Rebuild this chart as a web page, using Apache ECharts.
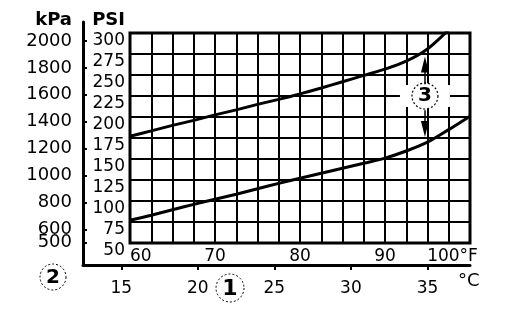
<!DOCTYPE html>
<html><head><meta charset="utf-8">
<script src="https://cdn.jsdelivr.net/npm/echarts@6/dist/echarts.min.js"></script>
<style>html,body{margin:0;padding:0;background:#fff}#c{width:512px;height:316px}</style>
</head><body><div id="c"></div>
<script>
// ---- data ----
const fahrenheit = [60, 62.5, 65, 67.5, 70, 72.5, 75, 77.5, 80, 82.5, 85, 87.5, 90, 92.5, 95, 97.5, 100];
const upperPSI = [177, 183.5, 190, 196, 202.5, 208.5, 215, 221, 227.5, 234.5, 242, 249.5, 257, 266.5, 281, 304];
const lowerPSI = [77, 83, 89.5, 96, 102, 108, 114.5, 121, 127, 133, 139, 145, 151, 159.5, 170, 185, 201];
const fahrenheitLabels = [60, 70, 80, 90, 100];
const celsiusLabels = [15, 20, 25, 30, 35];
const kpaLabels = [500, 600, 800, 1000, 1200, 1400, 1600, 1800, 2000];
const psiRange = [50, 300, 25];
const fRange = [60, 100, 2.5];
const kpaRange = [335, 2141];
const celsiusMin = 12.5;
// marker "3": range between curves (°F, PSI)
const rangeMarkF = 94.7;
const rangeMarkPSI = 225;
const upArrowPSI = [239, 262.6];
const downArrowPSI = [208, 185.7];

const FONT = 'DejaVu Sans';
const pair = arr => arr.map((v, i) => [fahrenheit[i], v]);

const chart = echarts.init(document.getElementById('c'), null, {renderer: 'canvas'});
chart.setOption({
  animation: false,
  backgroundColor: '#fff',
  textStyle: {fontFamily: FONT, color: '#000'},
  grid: [
    {left: 130, top: 33, width: 340, height: 210, show: true, borderColor: '#000', borderWidth: 3, backgroundColor: 'transparent'},
    {left: 83, top: 22, right: 42, bottom: 51, show: false}
  ],
  xAxis: [
    {
      gridIndex: 0, type: 'value', min: fRange[0], max: fRange[1], interval: fRange[2],
      axisLine: {show: false}, axisTick: {show: false},
      splitLine: {show: true, lineStyle: {color: '#000', width: 2}},
      axisLabel: {
        customValues: fahrenheitLabels, margin: 5, fontSize: 17, color: '#000', fontFamily: FONT,
        showMinLabel: true, showMaxLabel: true,
        alignMinLabel: 'left', alignMaxLabel: 'center',
        formatter: v => v === 100 ? '{last|100°F}' : String(v),
        rich: {last: {fontSize: 17, fontFamily: FONT, color: '#000', padding: [0, 35, 0, 0]}}
      }
    },
    {
      gridIndex: 1, type: 'value', min: celsiusMin, max: (100 - 32) / 1.8,
      axisLine: {show: true, lineStyle: {color: '#000', width: 3}},
      axisTick: {show: true, customValues: celsiusLabels, length: 5, lineStyle: {color: '#000', width: 2}},
      axisLabel: {customValues: celsiusLabels, margin: 15, fontSize: 17, color: '#000', fontFamily: FONT,
        showMinLabel: true, showMaxLabel: true, formatter: v => String(v)},
      splitLine: {show: false},
      name: '°C', nameLocation: 'end', nameGap: -12,
      nameTextStyle: {fontSize: 18, color: '#000', fontFamily: FONT, verticalAlign: 'top', padding: [7, 0, 0, 0]}
    }
  ],
  yAxis: [
    {
      gridIndex: 0, type: 'value', min: psiRange[0], max: psiRange[1], interval: psiRange[2],
      axisLine: {show: false}, axisTick: {show: false},
      splitLine: {show: true, lineStyle: {color: '#000', width: 2}},
      axisLabel: {margin: 5, color: '#000', fontFamily: FONT,
        showMinLabel: true, showMaxLabel: true,
        formatter: v => '{p|' + v + '}',
        rich: {p: {fontSize: 17, fontFamily: FONT, color: '#000', padding: [15, 0, 0, 0]}}},
      name: 'PSI', nameLocation: 'end', nameGap: 4,
      nameTextStyle: {fontSize: 18, fontWeight: 'bold', color: '#000', fontFamily: FONT, align: 'right', padding: [0, 5, 0, 0]}
    },
    {
      gridIndex: 1, type: 'value', min: kpaRange[0], max: kpaRange[1],
      axisLine: {show: true, lineStyle: {color: '#000', width: 3}},
      axisTick: {show: true, inside: true, length: 4, customValues: kpaLabels, lineStyle: {color: '#000', width: 2}},
      axisLabel: {customValues: [kpaRange[0]].concat(kpaLabels), margin: 11, fontSize: 18, lineHeight: 9, color: '#000', fontFamily: FONT,
        showMinLabel: true, showMaxLabel: true, hideOverlap: false,
        formatter: v => (kpaLabels.indexOf(v) >= 0 ? String(v) : '')},
      splitLine: {show: false},
      name: 'kPa', nameLocation: 'end', nameGap: -7,
      nameTextStyle: {fontSize: 18, fontWeight: 'bold', color: '#000', fontFamily: FONT, align: 'right', padding: [0, 11, 0, 0]}
    }
  ],
  series: [
    {
      name: 'upper', type: 'line', xAxisIndex: 0, yAxisIndex: 0, data: pair(upperPSI),
      smooth: 0.3, showSymbol: false, clip: true, lineStyle: {color: '#000', width: 3}, z: 3,
      markPoint: {
        z: 4, silent: true,
        data: [
          {coord: [rangeMarkF, rangeMarkPSI], symbol: 'rect', symbolSize: [50, 22], itemStyle: {color: '#fff'}, label: {show: false}},
          {coord: [rangeMarkF, rangeMarkPSI], symbol: 'circle', symbolSize: 26,
           itemStyle: {color: '#fff', borderColor: '#000', borderWidth: 1.2, borderType: [2, 2]},
           label: {show: true, position: 'inside', formatter: '3', fontSize: 20, fontWeight: 'bold', color: '#000', fontFamily: FONT}}
        ]
      },
      markLine: {
        z: 5, silent: true, symbol: ['none', 'triangle'], symbolSize: [8, 16],
        lineStyle: {color: '#000', width: 1.5, type: 'solid'}, label: {show: false},
        data: [
          [{coord: [rangeMarkF, upArrowPSI[0]]}, {coord: [rangeMarkF, upArrowPSI[1]]}],
          [{coord: [rangeMarkF, downArrowPSI[0]]}, {coord: [rangeMarkF, downArrowPSI[1]]}]
        ]
      }
    },
    {
      name: 'lower', type: 'line', xAxisIndex: 0, yAxisIndex: 0, data: pair(lowerPSI),
      smooth: 0.3, showSymbol: false, clip: true, lineStyle: {color: '#000', width: 3}, z: 3
    }
  ],
  graphic: [
    {type: 'circle', shape: {cx: 53, cy: 277, r: 13}, style: {fill: 'none', stroke: '#000', lineWidth: 1, lineDash: [2, 2]}},
    {type: 'text', x: 53, y: 278, style: {text: '2', fill: '#000', font: 'bold 20px "DejaVu Sans"', align: 'center', verticalAlign: 'middle'}},
    {type: 'circle', shape: {cx: 230, cy: 288, r: 14}, style: {fill: 'none', stroke: '#000', lineWidth: 1, lineDash: [2, 2]}},
    {type: 'text', x: 230, y: 289, style: {text: '1', fill: '#000', font: 'bold 22px "DejaVu Sans"', align: 'center', verticalAlign: 'middle'}}
  ]
});
</script>
</body></html>
